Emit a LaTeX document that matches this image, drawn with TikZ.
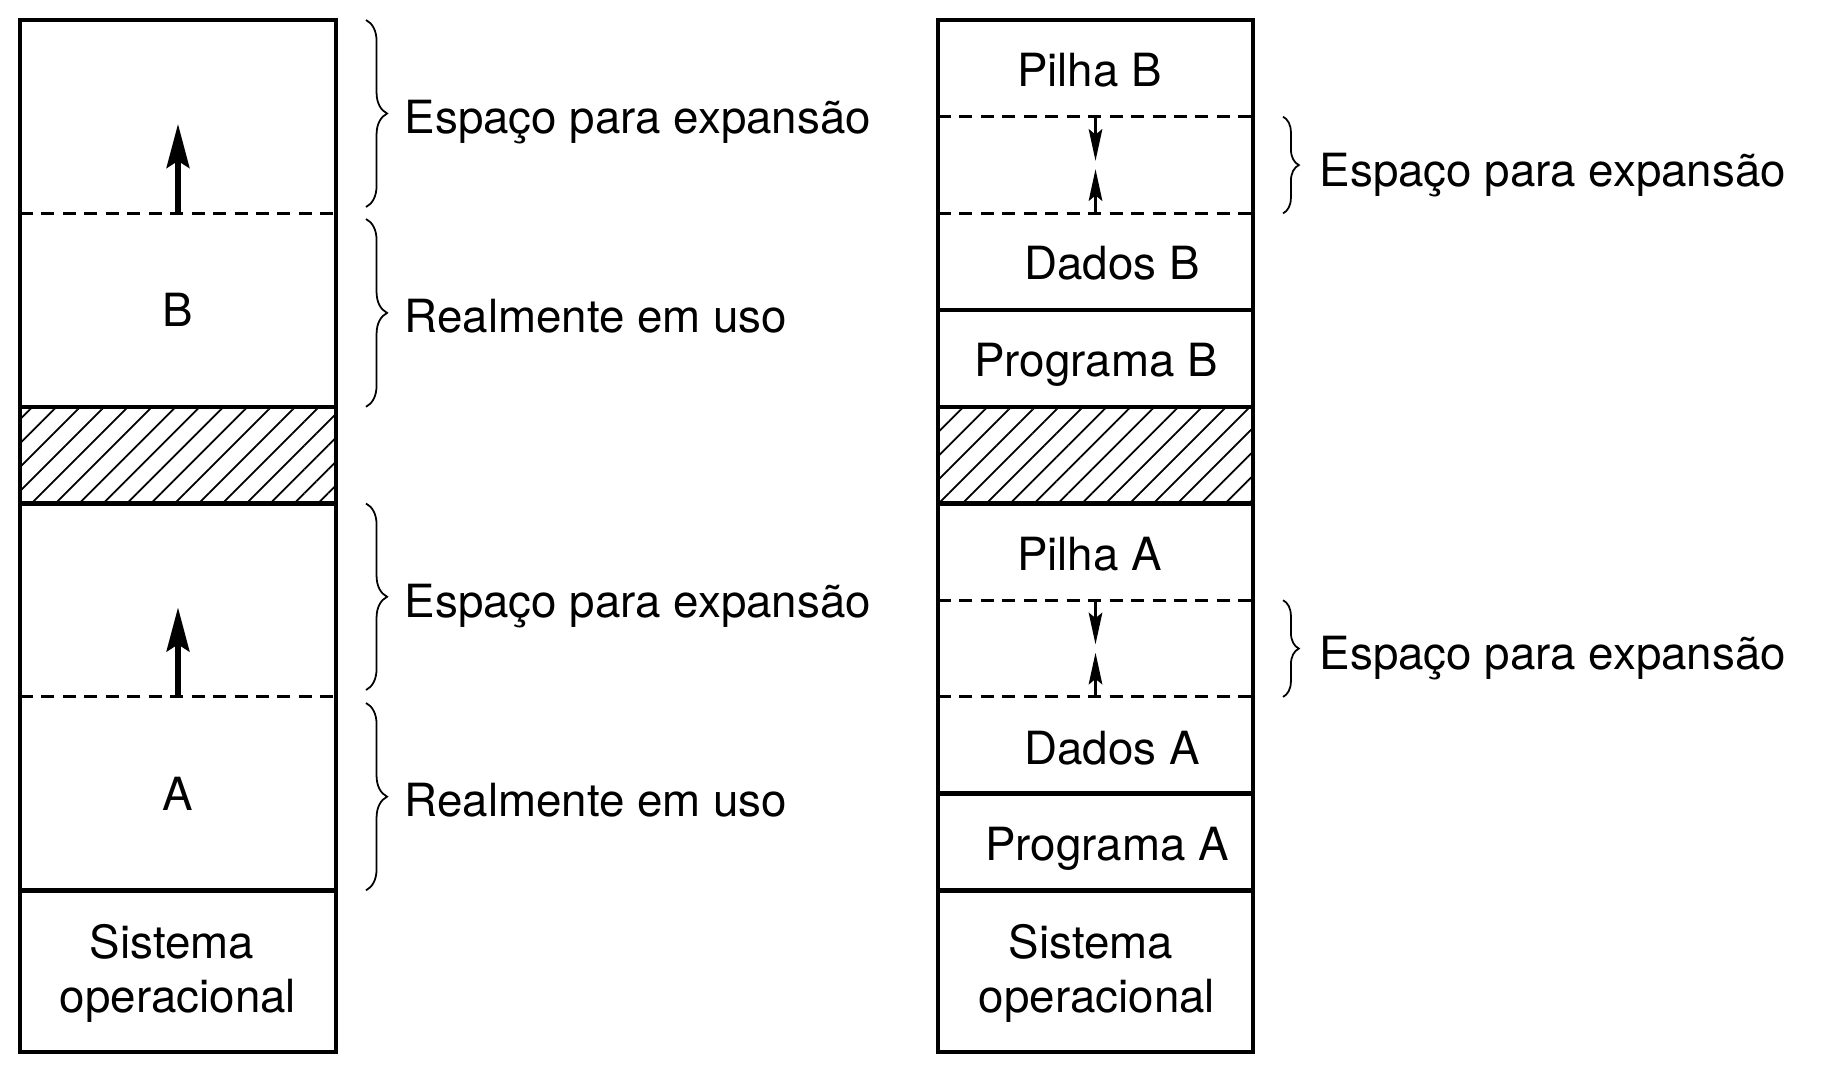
\documentclass[tikz,border=0pt]{standalone}
\usepackage{fontspec}
\setmainfont{TeX Gyre Heros}
\usepackage{tikz}
\usetikzlibrary{arrows.meta,patterns.meta,decorations.pathreplacing}

\begin{document}
\begin{tikzpicture}[
        x=0.01cm, y=-0.01cm,
        lbl/.style={font=\fontsize{13}{15.4}\selectfont, inner sep=0pt, align=center, text depth=0pt},
        wall/.style={line width=1.3pt},
        gap/.style={line width=0.85pt, dash pattern=on 3.7pt off 2.4pt},
        hatch/.style={pattern={Lines[angle=45, distance=4.8pt, line width=0.5pt]}},
        growth/.style={-{Stealth[length=12.5pt, width=6.5pt, inset=2pt]}, line width=1.5pt},
        meet/.style={-{Stealth[length=9pt, width=3.8pt, inset=1.5pt]}, line width=1.1pt},
        memb/.style={decorate, decoration={brace, amplitude=#1}, line width=0.5pt}
    ]
        \useasboundingbox (0,0) rectangle (1828,1084);

        % left: two programs that grow upwards
        \pattern[hatch] (20,406.8) rectangle (336,503.5);
        \draw[gap] (20,213.4) -- (336,213.4) (20,696.9) -- (336,696.9);
        \draw[wall] (20,406.8) -- (336,406.8) (20,503.5) -- (336,503.5) (20,890.3) -- (336,890.3);
        \draw[wall] (20,20) rectangle (336,1052);

        \node[lbl] (progb) at (178,310.1) {B};
        \node[lbl] (proga) at (178,793.6) {A};
        \node[lbl] (osleft) at (178,968) {Sistema\hspace*{0.12cm}\\operacional};

        \coordinate (bfloor) at (178,213.4);
        \coordinate (btop) at (178,124);
        \coordinate (afloor) at (178,696.9);
        \coordinate (atop) at (178,607.5);
        \draw[growth] (bfloor) -- (btop);
        \draw[growth] (afloor) -- (atop);

        \draw[memb=6pt] (366,20) -- (366,207);
        \draw[memb=6pt] (366,219) -- (366,406.8);
        \draw[memb=6pt] (366,503.5) -- (366,690);
        \draw[memb=6pt] (366,703) -- (366,890.3);
        \node[lbl, anchor=west] (freeb) at (404,116.5) {Espaço para expansão};
        \node[lbl, anchor=west] (usedb) at (404,315.5) {Realmente em uso};
        \node[lbl, anchor=west] (freea) at (404,601) {Espaço para expansão};
        \node[lbl, anchor=west] (useda) at (404,799.5) {Realmente em uso};

        % right: stack and data growing towards each other
        \pattern[hatch] (938,406.8) rectangle (1253,503.5);
        \draw[gap] (938,116.7) -- (1253,116.7) (938,213.4) -- (1253,213.4)
                   (938,600.2) -- (1253,600.2) (938,696.9) -- (1253,696.9);
        \draw[wall] (938,310.1) -- (1253,310.1) (938,406.8) -- (1253,406.8) (938,503.5) -- (1253,503.5)
                    (938,793.6) -- (1253,793.6) (938,890.3) -- (1253,890.3);
        \draw[wall] (938,20) rectangle (1253,1052);

        \node[lbl] (stackb) at (1089.5,70) {Pilha B};
        \node[lbl] (datab) at (1112,263) {Dados B};
        \node[lbl] (codeb) at (1096,360) {Programa B};
        \node[lbl] (stacka) at (1089.5,554) {Pilha A};
        \node[lbl] (dataa) at (1112,747.5) {Dados A};
        \node[lbl] (codea) at (1107,844) {Programa A};
        \node[lbl] (osright) at (1097,968) {Sistema\hspace*{0.12cm}\\operacional};

        \coordinate (sbfloor) at (1095.5,116.7);
        \coordinate (sbtip) at (1095.5,161);
        \coordinate (dbfloor) at (1095.5,213.4);
        \coordinate (dbtip) at (1095.5,169);
        \coordinate (safloor) at (1095.5,600.2);
        \coordinate (satip) at (1095.5,644.5);
        \coordinate (dafloor) at (1095.5,696.9);
        \coordinate (datip) at (1095.5,652.5);
        \draw[meet] (sbfloor) -- (sbtip);
        \draw[meet] (dbfloor) -- (dbtip);
        \draw[meet] (safloor) -- (satip);
        \draw[meet] (dafloor) -- (datip);

        \draw[memb=4.5pt] (1283,116.7) -- (1283,213.4);
        \draw[memb=4.5pt] (1283,600.2) -- (1283,696.9);
        \node[lbl, anchor=west] (gapb) at (1319,169.5) {Espaço para expansão};
        \node[lbl, anchor=west] (gapa) at (1319,653) {Espaço para expansão};
    \end{tikzpicture}
\end{document}
